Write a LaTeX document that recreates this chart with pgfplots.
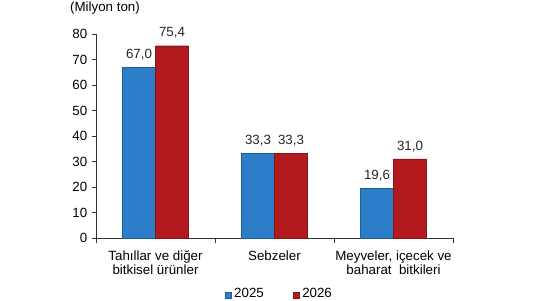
\documentclass[border=0pt]{standalone}
\usepackage{pgfplots}
\pgfplotsset{compat=1.18}
\usepackage{fontspec}
\setmainfont{Liberation Sans}
\definecolor{b25}{RGB}{44,126,200}
\definecolor{r26}{RGB}{178,26,30}
\begin{document}
\begin{tikzpicture}[x=0.75pt,y=0.75pt]
\useasboundingbox (0,0) rectangle (560,300);
\coordinate (O) at (96,62);
\node[font=\fontsize{10}{12}\selectfont] at (105,292) {(Milyon ton)};
\begin{axis}[
  at={(O)}, anchor=origin, scale only axis,
  width=267.75pt, height=153pt,
  ybar=0pt, bar width=24.75pt,
  ymin=0, ymax=80, xmin=0, xmax=3,
  axis x line=bottom, axis y line=left, axis line style={-, black!80},
  ytick={0,10,...,80},
  xtick={0.5,1.5,2.5},
  xticklabels={{Tahıllar ve diğer\\bitkisel ürünler},{Sebzeler},{Meyveler, içecek ve\\baharat\ \ bitkileri}},
  xticklabel style={align=center, font=\fontsize{10}{9}\selectfont, yshift=-3pt},
  yticklabel style={font=\fontsize{10}{12}\selectfont},
  /pgf/number format/assume math mode=true,
  major x tick style={draw=none},
  minor xtick={0,1,2,3},
  tick align=outside, major tick length=3pt, minor tick length=3.5pt,
  tick style={black!80},
  nodes near coords,
  nodes near coords style={font=\fontsize{10}{12}\selectfont, anchor=center, yshift=9.5pt, black!85,
     /pgf/number format/.cd, fixed, fixed zerofill, precision=1, use comma, assume math mode=true},
  legend style={at={(0.515,-0.275)}, anchor=center, draw=none, legend columns=2,
     font=\fontsize{10}{12}\selectfont, /tikz/every even column/.append style={column sep=20pt}},
  legend image code/.code={\fill[#1] (0pt,-3pt) rectangle (4.5pt,1.5pt);},
]
\addplot[fill=b25, draw=b25!75!black, line width=0.3pt] coordinates {(0.5,67.0) (1.5,33.3) (2.5,19.6)};
\addplot[fill=r26, draw=r26!75!black, line width=0.3pt] coordinates {(0.5,75.4) (1.5,33.3) (2.5,31.0)};
\legend{2025,2026}
\end{axis}
\end{tikzpicture}
\end{document}
